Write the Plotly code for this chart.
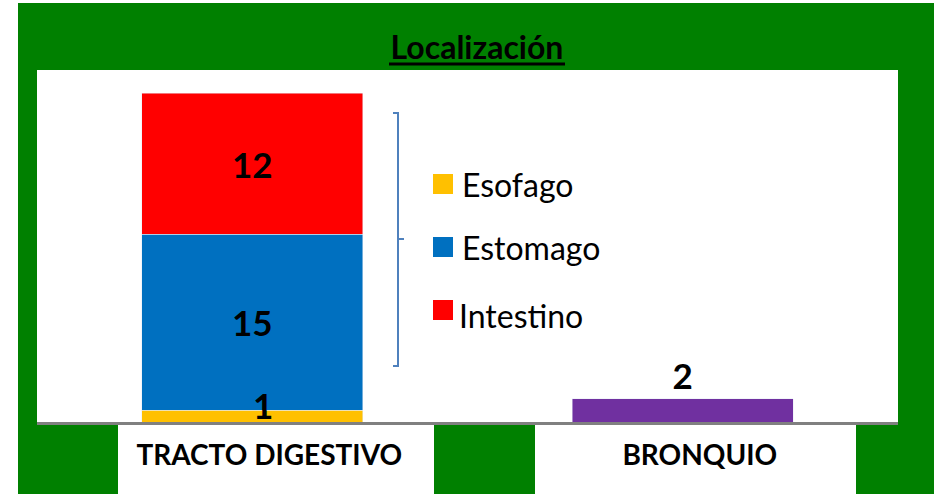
import plotly.graph_objects as go

# ---- data ----
categories = ["TRACTO DIGESTIVO", "BRONQUIO"]
esofago = [1, None]
estomago = [15, None]
intestino = [12, None]
bronquio = [None, 2]
series_names = ["Esofago", "Estomago", "Intestino"]
series_colors = ["#FFC000", "#0070C0", "#FF0000"]
bronquio_color = "#7030A0"
title_text = "Localización"

# ---- layout geometry (pixels) ----
W, H = 934, 494
PL, PR, PT, PB = 37, 898, 70, 422
GREEN = "#008000"
FONT = "Lato"


def px(x):
    return (x - PL) / (PR - PL)


def py(y):
    return (PB - y) / (PB - PT)


fig = go.Figure()

series_vals = [esofago, estomago, intestino]
for i, (name, vals, col) in enumerate(zip(series_names, series_vals, series_colors)):
    show_text = i > 0
    fig.add_bar(
        x=categories, y=vals, name=name, marker_color=col, width=0.513,
        texttemplate="<b>%{y}</b>" if show_text else None,
        textposition="inside" if show_text else "none",
        insidetextanchor="middle",
        textfont=dict(family=FONT, size=35, color="black"),
        constraintext="none",
        showlegend=False,
    )

fig.add_bar(
    x=categories, y=bronquio, name="BRONQUIO", marker_color=bronquio_color,
    width=0.513, texttemplate="<b>%{y}</b>", textposition="outside",
    textfont=dict(family=FONT, size=35, color="black"),
    cliponaxis=False, showlegend=False,
)

shapes = []
# background
shapes.append(dict(type="rect", xref="paper", yref="paper", layer="below",
                   x0=px(18), x1=px(W + 2), y0=py(H + 2), y1=py(3),
                   fillcolor=GREEN, line=dict(width=0)))
shapes.append(dict(type="rect", xref="paper", yref="paper", layer="below",
                   x0=0, x1=1, y0=0, y1=1, fillcolor="white", line=dict(width=0)))
for a, b in [(118, 434), (535, 856)]:
    shapes.append(dict(type="rect", xref="paper", yref="paper", layer="below",
                       x0=px(a), x1=px(b), y0=py(H + 2), y1=0,
                       fillcolor="white", line=dict(width=0)))
# title underline
shapes.append(dict(type="line", xref="paper", yref="paper",
                   x0=px(389), x1=px(565), y0=py(64), y1=py(64),
                   line=dict(color="black", width=3)))
# bracket
bx = 398
path = (f"M{px(bx-5)},{py(113)} L{px(bx)},{py(113)} L{px(bx)},{py(366)} "
        f"L{px(bx-5)},{py(366)} M{px(bx)},{py(239)} L{px(bx+6)},{py(239)}")
shapes.append(dict(type="path", xref="paper", yref="paper", path=path,
                   line=dict(color="#4F81BD", width=2)))

annotations = []
# legend (built from series lists)
sq_y = [184, 247, 310]
tx_y = [184, 247, 315]
tx_x = [460, 460, 457]
for name, col, sy, ty, tx in zip(series_names, series_colors, sq_y, tx_y, tx_x):
    shapes.append(dict(type="rect", xref="paper", yref="paper",
                       x0=px(433), x1=px(453), y0=py(sy + 10), y1=py(sy - 10),
                       fillcolor=col, line=dict(width=0)))
    annotations.append(dict(xref="paper", yref="paper", x=px(tx), y=py(ty),
                            xanchor="left", yanchor="middle", showarrow=False,
                            text=name, font=dict(family=FONT, size=32, color="black")))

# small first-segment label
annotations.append(dict(xref="x", yref="y", x=categories[0], y=esofago[0],
                        xanchor="center", yanchor="middle", yshift=5, xshift=11,
                        showarrow=False, text=f"<b>{esofago[0]}</b>",
                        font=dict(family=FONT, size=35, color="black")))

fig.update_layout(
    width=W, height=H,
    margin=dict(l=PL, r=W - PR, t=PT, b=H - PB, pad=0),
    paper_bgcolor="white", plot_bgcolor="white",
    barmode="stack",
    title=dict(text=f"<b>{title_text}</b>", xref="container", yref="container",
               x=477 / W, xanchor="center", y=(H - 48) / H, yanchor="middle",
               font=dict(family=FONT, size=32, color="black")),
    shapes=shapes, annotations=annotations,
    showlegend=False,
)
fig.update_xaxes(showline=True, linecolor="#808080", linewidth=3,
                 ticks="", showgrid=False,
                 tickfont=dict(family=FONT, size=28, color="black", weight="bold"),
                 ticklabelshift=17, ticklabelstandoff=6)
fig.update_yaxes(range=[0, 30], visible=False, showgrid=False)

fig.write_html(
    "out.html",
    config={"displayModeBar": False},
    post_script="document.body.style.margin='0';document.body.style.overflow='hidden';",
)
